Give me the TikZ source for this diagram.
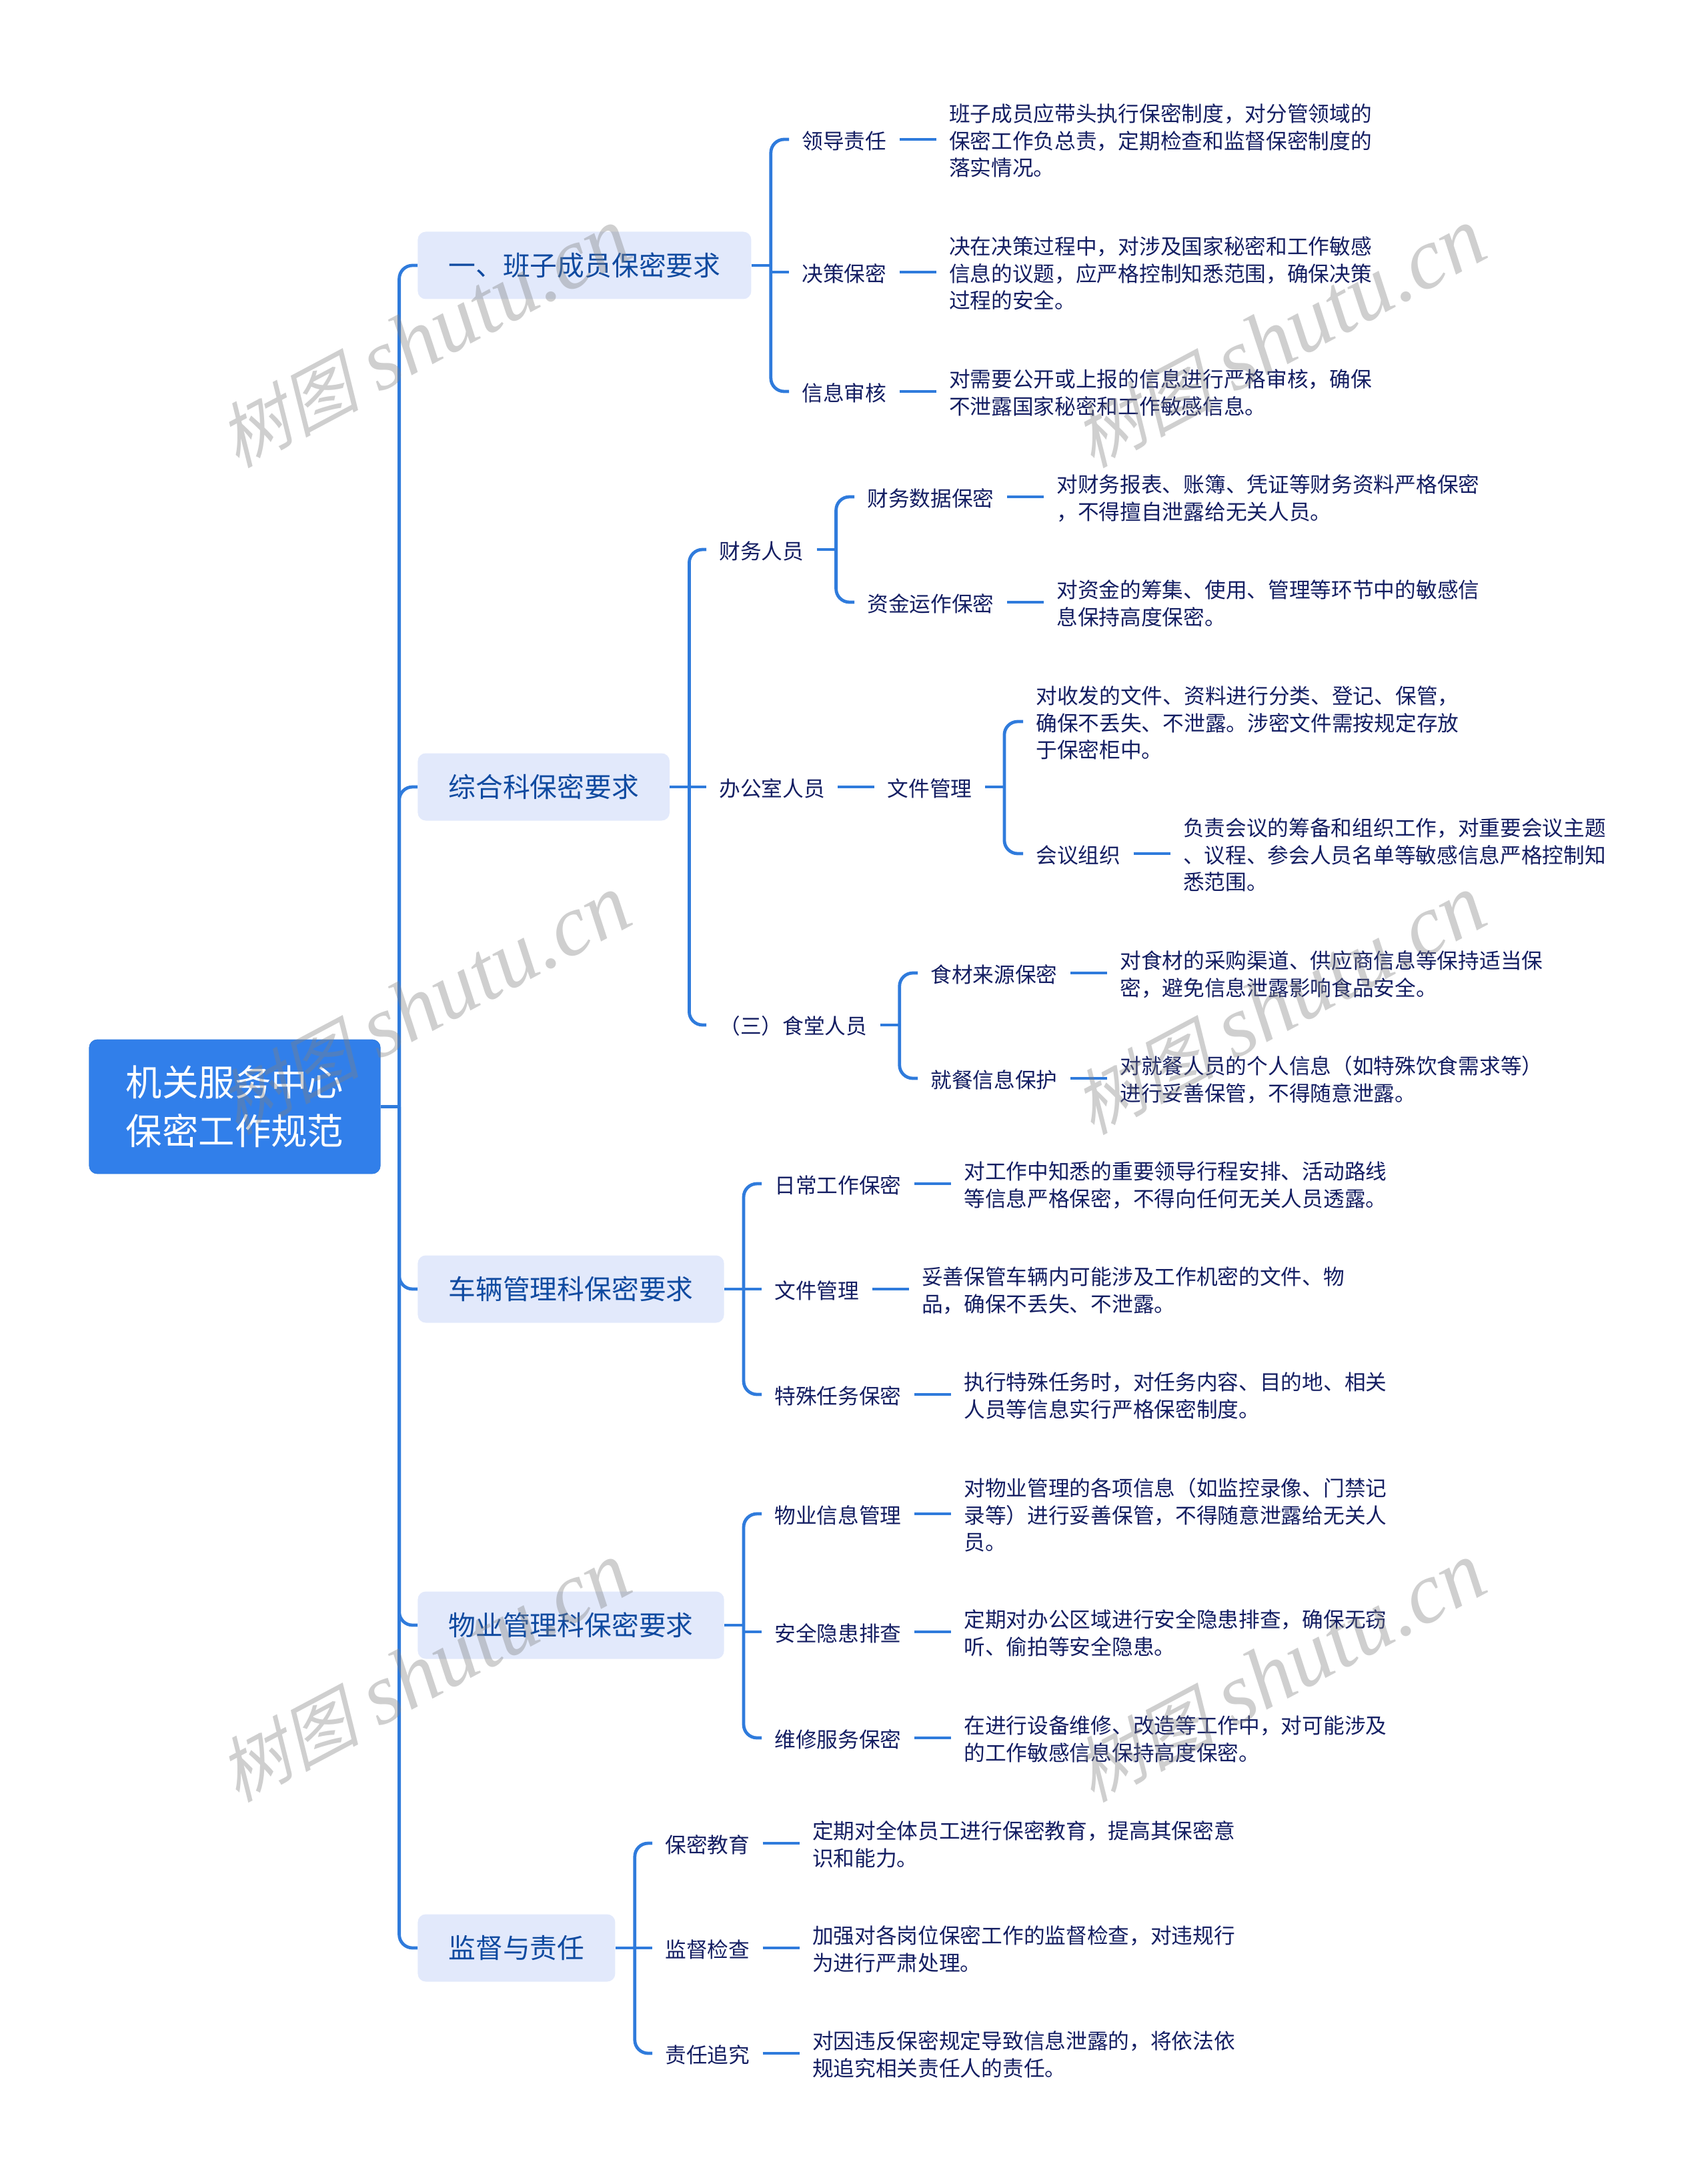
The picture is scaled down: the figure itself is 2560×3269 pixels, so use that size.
\documentclass[tikz,border=0pt]{standalone}
\usepackage{fontspec}
\setmainfont{Noto Sans CJK SC}
\newfontfamily\markcjk[FakeSlant=0.25]{Noto Sans CJK SC}
\newfontfamily\marklatin{Liberation Serif Italic}
\usepackage[dvipsnames]{xcolor}
\usetikzlibrary{positioning}
\definecolor{RootBlue}{HTML}{317FEA}
\definecolor{LinkBlue}{HTML}{2F7BDC}
\definecolor{BranchFill}{HTML}{E2E9FB}
\definecolor{BranchText}{HTML}{0F4AA0}
\definecolor{PlainText}{HTML}{141E62}
\tikzset{%
  RootStyle/.style={draw=LinkBlue,fill=RootBlue,rounded corners=6pt,text=white,align=center,
    inner xsep=27.5pt,minimum height=100.5pt,font=\fontsize{27.2}{36.5}\selectfont},
  BranchStyle/.style={fill=BranchFill,rounded corners=6pt,text=BranchText,anchor=west,
    inner xsep=23pt,minimum height=50.5pt,font=\fontsize{20.4}{26}\selectfont},
  TopicStyle/.style={text=PlainText,anchor=west,inner xsep=9.5pt,inner ysep=2pt,
    font=\fontsize{15.85}{20.3}\selectfont,execute at begin node={\rule{0pt}{15.5pt}}},
  LeafStyle/.style={text=PlainText,anchor=west,inner xsep=9.5pt,inner ysep=2pt,
    font=\fontsize{15.85}{20.3}\selectfont,align=left,yshift=-1pt},
  LinkStyle/.style={draw=LinkBlue,line width=2.4pt},
  MarkStyle/.style={text=gray,opacity=.38,rotate=28,font=\fontsize{65}{72}\selectfont}
}
\begin{document}
\begin{tikzpicture}[x=.5pt,y=-.5pt,node distance=27.5pt]
  \useasboundingbox (0,0) rectangle (2560,3269);
  \node[RootStyle] (root) at (352,1659.5) {机关服务中心\\保密工作规范};
  \node[BranchStyle] (b1) at (626,398) {一、班子成员保密要求};
  \node[BranchStyle] (b2) at (626,1180) {综合科保密要求};
  \node[BranchStyle] (b3) at (626,1933) {车辆管理科保密要求};
  \node[BranchStyle] (b4) at (626,2437) {物业管理科保密要求};
  \node[BranchStyle] (b5) at (626,2921) {监督与责任};

  \node[TopicStyle] (t11) at (1183,209) {领导责任};
  \node[TopicStyle] (t12) at (1183,408) {决策保密};
  \node[TopicStyle] (t13) at (1183,587) {信息审核};
  \node[LeafStyle,right=of t11] (d11) {班子成员应带头执行保密制度，对分管领域的\\保密工作负总责，定期检查和监督保密制度的\\落实情况。};
  \node[LeafStyle,right=of t12] (d12) {决在决策过程中，对涉及国家秘密和工作敏感\\信息的议题，应严格控制知悉范围，确保决策\\过程的安全。};
  \node[LeafStyle,right=of t13] (d13) {对需要公开或上报的信息进行严格审核，确保\\不泄露国家秘密和工作敏感信息。};

  \node[TopicStyle] (t21) at (1059,824) {财务人员};
  \node[TopicStyle] (t22) at (1059,1180) {办公室人员};
  \node[TopicStyle] (t23) at (1059,1537) {（三）食堂人员};
  \node[TopicStyle] (t31) at (1281,745) {财务数据保密};
  \node[TopicStyle] (t32) at (1281,903) {资金运作保密};
  \node[LeafStyle,right=of t31] (d31) {对财务报表、账簿、凭证等财务资料严格保密\\，不得擅自泄露给无关人员。};
  \node[LeafStyle,right=of t32] (d32) {对资金的筹集、使用、管理等环节中的敏感信\\息保持高度保密。};
  \node[TopicStyle,right=of t22] (t33) {文件管理};
  \node[LeafStyle] (d33) at (1534,1082) {对收发的文件、资料进行分类、登记、保管，\\确保不丢失、不泄露。涉密文件需按规定存放\\于保密柜中。};
  \node[TopicStyle] (t34) at (1534,1280) {会议组织};
  \node[LeafStyle,right=of t34] (d34) {负责会议的筹备和组织工作，对重要会议主题\\、议程、参会人员名单等敏感信息严格控制知\\悉范围。};
  \node[TopicStyle] (t35) at (1376,1459) {食材来源保密};
  \node[TopicStyle] (t36) at (1376,1617) {就餐信息保护};
  \node[LeafStyle,right=of t35] (d35) {对食材的采购渠道、供应商信息等保持适当保\\密，避免信息泄露影响食品安全。};
  \node[LeafStyle,right=of t36] (d36) {对就餐人员的个人信息（如特殊饮食需求等）\\进行妥善保管，不得随意泄露。};

  \node[TopicStyle] (t41) at (1142,1775) {日常工作保密};
  \node[TopicStyle] (t42) at (1142,1933) {文件管理};
  \node[TopicStyle] (t43) at (1142,2091) {特殊任务保密};
  \node[LeafStyle,right=of t41] (d41) {对工作中知悉的重要领导行程安排、活动路线\\等信息严格保密，不得向任何无关人员透露。};
  \node[LeafStyle,right=of t42] (d42) {妥善保管车辆内可能涉及工作机密的文件、物\\品，确保不丢失、不泄露。};
  \node[LeafStyle,right=of t43] (d43) {执行特殊任务时，对任务内容、目的地、相关\\人员等信息实行严格保密制度。};

  \node[TopicStyle] (t51) at (1142,2270) {物业信息管理};
  \node[TopicStyle] (t52) at (1142,2447) {安全隐患排查};
  \node[TopicStyle] (t53) at (1142,2606) {维修服务保密};
  \node[LeafStyle,right=of t51] (d51) {对物业管理的各项信息（如监控录像、门禁记\\录等）进行妥善保管，不得随意泄露给无关人\\员。};
  \node[LeafStyle,right=of t52] (d52) {定期对办公区域进行安全隐患排查，确保无窃\\听、偷拍等安全隐患。};
  \node[LeafStyle,right=of t53] (d53) {在进行设备维修、改造等工作中，对可能涉及\\的工作敏感信息保持高度保密。};

  \node[TopicStyle] (t61) at (978,2764) {保密教育};
  \node[TopicStyle] (t62) at (978,2921) {监督检查};
  \node[TopicStyle] (t63) at (978,3079) {责任追究};
  \node[LeafStyle,right=of t61] (d61) {定期对全体员工进行保密教育，提高其保密意\\识和能力。};
  \node[LeafStyle,right=of t62] (d62) {加强对各岗位保密工作的监督检查，对违规行\\为进行严肃处理。};
  \node[LeafStyle,right=of t63] (d63) {对因违反保密规定导致信息泄露的，将依法依\\规追究相关责任人的责任。};

  % spines
  \coordinate (s0) at ([xshift=14pt]root.east);
  \foreach \from/\name in {b1/s1,b2/s2,t21/s3,t33/s4,t23/s5,b3/s6,b4/s7,b5/s8}{
    \coordinate (\name) at ([xshift=14.5pt]\from.east);
    \draw[LinkStyle] (\from.east) -- (\name);
  }
  \draw[LinkStyle] (root.east) -- (s0);
  \foreach \xi in {1,...,5}{
    \draw[LinkStyle,rounded corners=10pt] (s0) |- (b\xi.west);
  }
  \coordinate (d33stub) at ([yshift=1pt]d33.west);
  \foreach \up/\name/\down in {t11/s1/t13,t21/s2/t23,t31/s3/t32,d33stub/s4/t34,
    t35/s5/t36,t41/s6/t43,t51/s7/t53,t61/s8/t63}{
    \draw[LinkStyle,rounded corners=10pt] (\up.west) -| (\name) |- (\down.west);
  }
  \foreach \name/\mid in {s1/t12,s2/t22,s6/t42,s7/t52,s8/t62}{
    \draw[LinkStyle] (\name |- \mid.west) -- (\mid.west);
  }
  % straight links
  \foreach \from/\to in {t11/d11,t12/d12,t13/d13,t31/d31,t32/d32,t22/t33,t34/d34,t35/d35,t36/d36,
    t41/d41,t42/d42,t43/d43,t51/d51,t52/d52,t53/d53,t61/d61,t62/d62,t63/d63}{
    \draw[LinkStyle] (\from.east) -- (\from.east -| \to.west);
  }
  % shutu marks
  \foreach \xi/\mx/\my in {1/636/507,2/1918/507,3/636/1507,4/1918/1507,5/636/2508,6/1918/2508}{
    \node[MarkStyle] (m\xi) at (\mx,\my) {{\markcjk\fontsize{53}{60}\selectfont 树图}\ {\marklatin shutu.cn}};
  }
\end{tikzpicture}
\end{document}
